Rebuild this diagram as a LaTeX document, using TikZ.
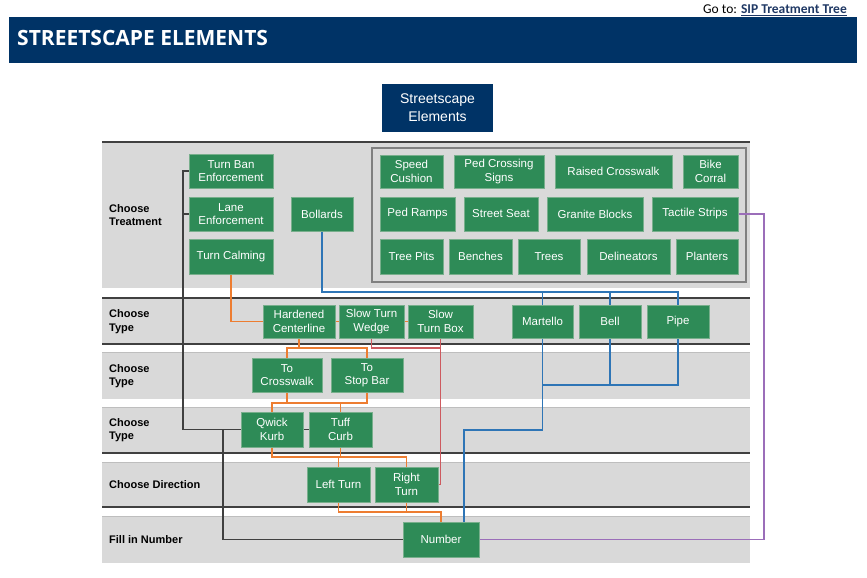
\documentclass[tikz,border=0pt]{standalone}
\usepackage{fontspec}
\setmainfont{Liberation Sans}
\newfontfamily\titlefont{Open Sans}
\newfontfamily\gofont{Carlito}
\definecolor{navy}{RGB}{0,51,102}
\definecolor{sgreen}{RGB}{46,139,87}
\definecolor{sgborder}{RGB}{120,175,140}
\definecolor{bandgray}{RGB}{217,217,217}
\definecolor{bandline}{RGB}{190,190,190}
\definecolor{orng}{RGB}{237,125,49}
\definecolor{rdl}{RGB}{205,90,95}
\definecolor{blu}{RGB}{46,117,182}
\definecolor{purp}{RGB}{155,110,185}
\definecolor{dk}{RGB}{64,64,64}
\definecolor{linkblue}{RGB}{31,56,100}
\pgfdeclarelayer{bg}\pgfdeclarelayer{conn}\pgfsetlayers{bg,conn,main}
\tikzset{
  gbox/.style={fill=sgreen, draw=sgborder, line width=0.6pt, text=white,
    font=\fontsize{11.5}{13.5}\selectfont, align=center, inner sep=0pt},
  lbl/.style={anchor=west, align=left, font=\bfseries\fontsize{11}{13.5}\selectfont, text=black, inner sep=0pt},
  conline/.style={line width=1.2pt},
  orl/.style={conline, draw=orng},
  rdln/.style={conline, draw=rdl},
  bll/.style={conline, draw=blu},
  pul/.style={conline, draw=purp, line width=1.5pt},
  dkl/.style={conline, draw=dk},
}
\newcommand\gbx[6]{\node[gbox,minimum width=#4,minimum height=#5] (#1) at (#2,#3) {#6};}
\begin{document}
\begin{tikzpicture}[x=1pt,y=-1pt]
\useasboundingbox (0,0) rectangle (867,578);
% header
\node[anchor=base east, inner sep=0pt, font=\gofont\fontsize{13.5}{15}\selectfont] (goto) at (847,13.5)
  {Go to: \textcolor{linkblue}{\bfseries\underline{SIP Treatment Tree}}};
\fill[navy] (9,17) rectangle (857,63);
\node[anchor=west, inner sep=0pt, text=white, font=\titlefont\bfseries\fontsize{21}{22}\selectfont] (title) at (17,38.5) {STREETSCAPE ELEMENTS};
% root
\node[fill=navy, text=white, minimum width=111, minimum height=48, inner sep=0pt, align=center,
  font=\fontsize{14}{18}\selectfont] (se) at (437.5,108) {Streetscape\\Elements};
% bands
\begin{pgfonlayer}{bg}
  \fill[bandgray] (102,142) rectangle (750,288);
  \fill[bandgray] (102,298) rectangle (750,344);
  \fill[bandgray] (102,352) rectangle (750,399);
  \fill[bandgray] (102,407) rectangle (750,453);
  \fill[bandgray] (102,462) rectangle (750,507);
  \fill[bandgray] (102,516) rectangle (750,563);
  \draw[bandline, line width=1pt] (102,352) -- (750,352) (102,407) -- (750,407) (102,462) -- (750,462) (102,516) -- (750,516);
  \draw[dk, line width=1.2pt] (102,142) -- (750,142) (102,298) -- (750,298) (102,344) -- (750,344) (102,453) -- (750,453) (102,507) -- (750,507);
  \draw[draw={rgb,255:red,128;green,128;blue,128}, line width=2pt] (372,148) rectangle (746,282);
\end{pgfonlayer}
% labels
\node[lbl] (l1) at (109,215) {Choose\\Treatment};
\node[lbl] (l2) at (109,321.5) {Choose\\Type};
\node[lbl] (l3) at (109,376) {Choose\\Type};
\node[lbl] (l4) at (109,430) {Choose\\Type};
\node[lbl] (l5) at (109,485) {Choose Direction};
\node[lbl] (l6) at (109,539.5) {Fill in Number};
% treatment row
\gbx{tbe}{231}{171}{84}{34}{Turn Ban\\Enforcement}
\gbx{le}{231}{214}{84}{34}{Lane\\Enforcement}
\gbx{tc}{231}{256.5}{84}{35}{Turn Calming}
\gbx{bol}{322}{214}{62}{34}{Bollards}
\gbx{sc}{411.5}{171.5}{63}{33}{Speed\\Cushion}
\gbx{pcs}{499}{171.5}{90}{33}{Ped Crossing\\Signs}
\gbx{rc}{613.5}{171.5}{117}{33}{Raised Crosswalk}
\gbx{bc}{710.5}{171.5}{55}{33}{Bike\\Corral}
\gbx{pr}{417.5}{214}{75}{34}{Ped Ramps}
\gbx{ss}{501}{214}{74}{34}{Street Seat}
\gbx{gb}{595}{214}{96}{34}{Granite Blocks}
\gbx{ts}{695}{214}{86}{34}{Tactile Strips}
\gbx{tp}{411.5}{256.5}{63}{35}{Tree Pits}
\gbx{ben}{480.5}{256.5}{63}{35}{Benches}
\gbx{trees}{549}{256.5}{62}{35}{Trees}
\gbx{del}{628.5}{256.5}{83}{35}{Delineators}
\gbx{pl}{707}{256.5}{62}{35}{Planters}
% type row
\gbx{hc}{299}{321.5}{72}{33}{Hardened\\Centerline}
\gbx{stw}{371.5}{321.5}{65}{33}{Slow Turn\\Wedge}
\gbx{stb}{440.5}{321.5}{65}{33}{Slow\\Turn Box}
\gbx{mar}{542.5}{321.5}{61}{33}{Martello}
\gbx{bell}{610}{321.5}{62}{33}{Bell}
\gbx{pipe}{678}{321.5}{62}{33}{Pipe}
\gbx{tcw}{287}{375}{70}{34}{To\\Crosswalk}
\gbx{tsb}{367}{375}{72}{34}{To\\Stop Bar}
\gbx{qk}{272}{429.5}{62}{35}{Qwick\\Kurb}
\gbx{tcurb}{340.5}{429.5}{63}{35}{Tuff\\Curb}
\gbx{lt}{338.5}{484.5}{63}{35}{Left Turn}
\gbx{rt}{406.5}{484.5}{63}{35}{Right\\Turn}
\gbx{num}{441}{539.5}{76}{35}{Number}
% helper coordinates
\coordinate (y292) at (0,292);
\coordinate (y348) at (0,348);
\coordinate (y385) at (0,385);
\coordinate (y403) at (0,403);
\coordinate (y457) at (0,457);
\coordinate (y512) at (0,512);
\coordinate (b1) at (464,430);
\coordinate (p1) at (764,214);
\coordinate (k1) at (183,171);
\coordinate (k2) at (223,429.5);
\begin{pgfonlayer}{conn}
  % black
  \draw[dkl] (tbe.west) -- (k1) |- (tcurb.west);
  \draw[dkl] (le.west) -- (le.west -| k1);
  \draw[dkl] (k2) |- (num.west);
  % orange
  \draw[orl] (tc.south) |- (stb.west);
  \draw[orl] (hc.south) -- (hc.south |- y348);
  \draw[orl] (tcw.north) |- (tsb.north |- y348) -- (tsb.north);
  \draw[orl] (qk.north) |- (tsb.south |- y403) -- (tsb.south);
  \draw[orl] (tcw.south) -- (tcw.south |- y403);
  \draw[orl] (tcurb.north) -- (tcurb.north |- y403);
  \draw[orl] (qk.south) |- (rt.north |- y457) -- (rt.north);
  \draw[orl] (tcurb.south) -- (tcurb.south |- y457);
  \draw[orl] (lt.north) -- (lt.north |- y457);
  \draw[orl] (lt.south) |- (num.north |- y512) -- (num.north);
  \draw[orl] (rt.south) -- (rt.south |- y512);
  % red
  \draw[rdln] (stw.south) |- (stb.south |- y348);
  \draw[rdln] (stb.south) |- (rt.east);
  % blue
  \draw[bll] (bol.south) |- (pipe.north |- y292) -- (pipe.north);
  \draw[bll] (mar.north) -- (mar.north |- y292);
  \draw[bll] (bell.north) -- (bell.north |- y292);
  \draw[bll] (pipe.south) |- (mar.south |- y385);
  \draw[bll] (bell.south) -- (bell.south |- y385);
  \draw[bll] (mar.south) |- (b1) -- (b1 |- num.north);
  % purple
  \draw[pul] (ts.east) -- (p1) |- (num.east);
\end{pgfonlayer}
\end{tikzpicture}
\end{document}
